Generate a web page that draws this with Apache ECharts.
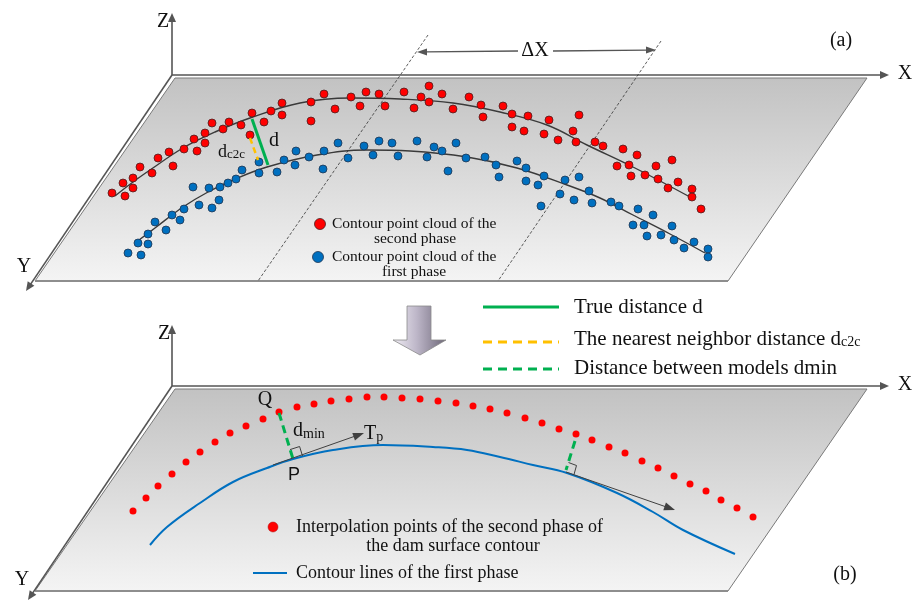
<!DOCTYPE html>
<html><head><meta charset="utf-8">
<script src="https://cdn.jsdelivr.net/npm/echarts@6/dist/echarts.min.js"></script>
<style>html,body{margin:0;padding:0;background:#fff}#c{width:913px;height:601px}</style>
</head><body><div id="c"></div>
<script>
// ---------- data (diagram coordinates) ----------
const planeA = [[175,78],[867,78],[728,281],[35,281]];
const planeB = [[175,389],[867,389],[728,591],[35,591]];
const axesA = [[[172,75],[889,75]],[[172,75],[172,13]],[[172,75],[26,291]]];
const axesB = [[[172,386],[889,386]],[[172,386],[172,325]],[[172,386],[28,600]]];
const boundaryLines = [[[428,35],[258,281]],[[661,41],[498,281]]];
const deltaXArrows = [[[518,51],[417,52]],[[553,51],[656,50]]];

const redCloudA = [[112,193],[123,183],[125,196],[133,178],[133,188],[140,167],[152,173],[158,158],[169,152],[173,166],[184,149],[194,139],[197,151],[205,133],[205,143],[212,123],[223,129],[229,122],[241,125],[250,135],[252,113],[264,122],[271,111],[282,103],[282,115],[311,102],[311,121],[324,94],[335,109],[351,97],[360,106],[366,92],[379,94],[385,106],[404,92],[414,108],[421,97],[429,86],[429,102],[442,94],[453,109],[469,97],[481,105],[483,117],[503,106],[512,114],[512,127],[524,131],[528,116],[544,134],[549,120],[558,140],[573,131],[576,142],[579,115],[595,142],[603,146],[617,166],[623,149],[629,165],[631,176],[637,155],[645,175],[656,166],[658,179],[668,188],[672,160],[678,182],[692,189],[692,197],[701,209]];
const blueCloudA = [[128,253],[141,255],[138,243],[148,244],[148,234],[166,230],[155,222],[172,215],[180,220],[184,209],[199,205],[212,208],[219,200],[193,187],[209,188],[220,187],[228,183],[236,179],[242,170],[259,173],[259,162],[277,172],[284,160],[295,165],[296,151],[309,157],[323,169],[324,151],[338,143],[348,158],[364,146],[373,155],[379,141],[392,143],[398,156],[417,141],[427,157],[434,147],[442,151],[448,171],[456,143],[466,158],[485,157],[496,165],[499,177],[517,161],[526,168],[526,181],[538,185],[541,206],[544,176],[560,194],[565,180],[574,200],[579,177],[589,191],[592,203],[611,202],[619,206],[633,225],[638,209],[644,225],[647,236],[653,215],[661,235],[672,226],[674,240],[684,248],[694,242],[708,249],[708,257]];
const redFitA = [[115,196],[133,182],[150,170],[183,148],[215,132],[250,118],[300,103],[350,98],[400,99],[453,103],[500,112],[547,125],[587,145],[633,167],[690,197]];
const blueFitA = [[135,243],[155,228],[183,207],[208,192],[233,180],[267,167],[317,155],[367,150],[410,151],[467,157],[517,168],[567,185],[600,198],[633,215],[670,234],[705,253]];

const redInterpB = [[133,511],[146,498],[158,486],[172,474],[186,462],[200,452],[215,442],[230,433],[246,426],[263,419],[279,412],[297,407],[314,404],[331,401],[349,399],[367,397],[384,397],[402,398],[420,399],[438,401],[456,403],[473,406],[490,409],[507,413],[525,418],[542,423],[559,429],[576,434],[592,440],[609,447],[625,453],[642,461],[658,468],[674,476],[690,484],[706,491],[721,500],[737,508],[753,517]];
const blueContourB = [[150,545],[167,527],[200,503],[233,482],[267,468],[293,459],[333,450],[383,445],[433,447],[467,450],[500,457],[533,465],[567,473],[617,493],[653,512],[683,530],[735,554]];

const trueDistance = [[252,119],[268,165]];
const nearestDistance = [[250,138],[258,160]];
const dminLines = [[[279,413],[293,459]],[[575,441],[566,470]]];
const tangentArrows = [[[273,465],[364,433]],[[566,472],[675,510]]];
const rightAngles = [[[290,449.6],[299.6,446.5],[302.5,456]],[[568.5,462.5],[576.5,465.5],[574,474.5]]];
const downArrow = [[407,306],[431,306],[431,340],[446,340],[420,355],[393,340],[407,340]];

const legendLines = [[[483,307],[559,307],'solid-green'],[[483,342],[559,342],'dash-orange'],[[483,369],[559,369],'dash-green'],[[253,573],[287,573],'blue']];
const legendDots = [[320,224,'redA'],[318,257,'blueA'],[273,527,'redB']];

const labels = [
 [163,22,'Z','axis','center'],[905,74,'X','axis','center'],[24,267,'Y','axis','center'],[841,41,'(a)','axis','center'],[535,51,'ΔX','axis','center'],
 [274,141,'d','big','center'],[218,152,'{m|d}{s|c2c}','subA','left'],
 [332,224,'Contour point cloud of the','legA','left'],[415,239,'second phase','legA','center'],
 [332,257,'Contour point cloud of the','legA','left'],[414,272,'first phase','legA','center'],
 [574,307,'True distance d','legT','left'],[574,339,'{m|The nearest neighbor distance d}{s|c2c}','legTsub','left'],[574,368,'Distance between models dmin','legT','left'],
 [164,334,'Z','axis','center'],[905,385,'X','axis','center'],[22,580,'Y','axis','center'],[845,575,'(b)','axis','center'],
 [265,400,'Q','axis','center'],[293,431,'{m|d}{s|min}','subB','left'],[364,434,'{m|T}{s|p}','subB','left'],[294,475,'P','sans','center'],
 [296,527,'Interpolation points of the second phase of','legB','left'],[453,546,'the dam surface contour','legB','center'],[296,573,'Contour lines of the first phase','legB','left']
];

// ---------- styles ----------
const SERIF = '"Liberation Serif","Times New Roman",serif';
const textStyles = {
  axis:{font:'20px '+SERIF},
  big:{font:'20px '+SERIF},
  legA:{font:'15.5px '+SERIF},
  legT:{font:'21px '+SERIF},
  legB:{font:'18px '+SERIF},
  sans:{font:'18px "Liberation Sans",Arial,sans-serif'},
  subA:{rich:{m:{fontSize:18,fontFamily:SERIF,verticalAlign:'bottom',lineHeight:18},s:{fontSize:13,fontFamily:SERIF,verticalAlign:'bottom',lineHeight:13}}},
  subB:{rich:{m:{fontSize:20,fontFamily:SERIF,verticalAlign:'bottom',lineHeight:20},s:{fontSize:14,fontFamily:SERIF,verticalAlign:'bottom',lineHeight:14}}},
  legTsub:{rich:{m:{fontSize:21,fontFamily:SERIF,verticalAlign:'bottom',lineHeight:21},s:{fontSize:14,fontFamily:SERIF,verticalAlign:'bottom',lineHeight:14}}}
};
const lineStyles = {
  'solid-green':{stroke:'#00b050',lineWidth:3},
  'dash-orange':{stroke:'#ffc000',lineWidth:3,lineDash:[9,6]},
  'dash-green':{stroke:'#00b050',lineWidth:3,lineDash:[9,6]},
  'blue':{stroke:'#0070c0',lineWidth:2}
};
const dotStyles = {
  redA:{fill:'#ff0000',stroke:'#4a2020',lineWidth:0.8,r:5.5},
  blueA:{fill:'#0070c0',stroke:'#1f3550',lineWidth:0.8,r:5.5},
  redB:{fill:'#ff0000',stroke:'#aa1010',lineWidth:0.5,r:5}
};

function arrowEls(a,b,color,lw,hl,hw){
  const dx=b[0]-a[0], dy=b[1]-a[1], L=Math.hypot(dx,dy), ux=dx/L, uy=dy/L;
  const bx=b[0]-ux*hl, by=b[1]-uy*hl;
  return [
    {type:'line',shape:{x1:a[0],y1:a[1],x2:bx+ux*1,y2:by+uy*1},style:{stroke:color,lineWidth:lw}},
    {type:'polygon',shape:{points:[[b[0],b[1]],[bx-uy*hw,by+ux*hw],[bx+uy*hw,by-ux*hw]]},style:{fill:color}}
  ];
}
function lineEl(a,b,style){return {type:'line',shape:{x1:a[0],y1:a[1],x2:b[0],y2:b[1]},style:style};}

const planes = [planeA, planeB];
const allAxes = axesA.concat(axesB);

const chart = echarts.init(document.getElementById('c'), null, {renderer:'canvas'});
const option = {
  animation:false,
  backgroundColor:'#ffffff',
  grid:{left:0,right:0,top:0,bottom:0},
  xAxis:{type:'value',min:0,max:913,show:false},
  yAxis:{type:'value',min:0,max:601,inverse:true,show:false},
  series:[
    { // planes
      type:'custom',coordinateSystem:'cartesian2d',silent:true,z:1,
      data:planes.map((p,i)=>[i,0]),
      renderItem:function(params,api){
        const pts = planes[params.dataIndex].map(p=>api.coord(p));
        return {type:'group',children:[
          {type:'polygon',shape:{points:pts},style:{fill:new echarts.graphic.LinearGradient(0,0,0,1,[{offset:0,color:'#c2c2c2'},{offset:1,color:'#f4f4f4'}]),stroke:'#7a7a7a',lineWidth:1}},
          lineEl(pts[3],pts[2],{stroke:'#8e8e8e',lineWidth:2})
        ]};
      }
    },
    { // axes with arrows
      type:'custom',coordinateSystem:'cartesian2d',silent:true,z:2,
      data:allAxes.map((p,i)=>[i,0]),
      renderItem:function(params,api){
        const s = allAxes[params.dataIndex];
        return {type:'group',children:arrowEls(api.coord(s[0]),api.coord(s[1]),'#555555',1.6,9,4)};
      }
    },
    { // boundary dashed lines, delta X arrows, down arrow, legend lines
      type:'custom',coordinateSystem:'cartesian2d',silent:true,z:3,
      data:[[0,0]],
      renderItem:function(params,api){
        const ch = [];
        boundaryLines.forEach(s=>ch.push(lineEl(api.coord(s[0]),api.coord(s[1]),{stroke:'#333',lineWidth:0.8,lineDash:[3,2]})));
        deltaXArrows.forEach(s=>arrowEls(api.coord(s[0]),api.coord(s[1]),'#555555',1.3,10,3.5).forEach(e=>ch.push(e)));
        ch.push({type:'polygon',shape:{points:downArrow.map(p=>api.coord(p))},style:{fill:new echarts.graphic.LinearGradient(0,0,1,0,[{offset:0,color:'#f1eef5'},{offset:0.45,color:'#bdb6c8'},{offset:1,color:'#6c6677'}]),stroke:'#8a8a8a',lineWidth:0.8}});
        legendLines.forEach(s=>ch.push(lineEl(api.coord(s[0]),api.coord(s[1]),lineStyles[s[2]])));
        return {type:'group',children:ch};
      }
    },
    {type:'line',data:redFitA,smooth:0.4,showSymbol:false,silent:true,z:4,lineStyle:{color:'#3a3a3a',width:1.4}},
    {type:'line',data:blueFitA,smooth:0.4,showSymbol:false,silent:true,z:4,lineStyle:{color:'#3a3a3a',width:1.4}},
    {type:'line',data:blueContourB,smooth:0.4,showSymbol:false,silent:true,z:4,lineStyle:{color:'#0070c0',width:2}},
    {type:'scatter',data:redCloudA,symbolSize:8,silent:true,z:5,itemStyle:{color:'#ff0000',borderColor:'#4a2020',borderWidth:0.8,opacity:1}},
    {type:'scatter',data:blueCloudA,symbolSize:8,silent:true,z:5,itemStyle:{color:'#0070c0',borderColor:'#1f3550',borderWidth:0.8,opacity:1}},
    {type:'scatter',data:redInterpB,symbolSize:7,silent:true,z:5,itemStyle:{color:'#ff0000',opacity:1}},
    { // annotation overlays
      type:'custom',coordinateSystem:'cartesian2d',silent:true,z:6,
      data:[[0,0]],
      renderItem:function(params,api){
        const ch = [];
        ch.push(lineEl(api.coord(nearestDistance[0]),api.coord(nearestDistance[1]),{stroke:'#ffc000',lineWidth:2.5,lineDash:[6,4]}));
        ch.push(lineEl(api.coord(trueDistance[0]),api.coord(trueDistance[1]),{stroke:'#00b050',lineWidth:3}));
        dminLines.forEach(s=>ch.push(lineEl(api.coord(s[0]),api.coord(s[1]),{stroke:'#00b050',lineWidth:3,lineDash:[8,5]})));
        tangentArrows.forEach(s=>arrowEls(api.coord(s[0]),api.coord(s[1]),'#404040',1,11,4).forEach(e=>ch.push(e)));
        rightAngles.forEach(s=>ch.push({type:'polyline',shape:{points:s.map(p=>api.coord(p))},style:{stroke:'#404040',lineWidth:1,fill:null}}));
        legendDots.forEach(d=>{const st=dotStyles[d[2]];const c=api.coord([d[0],d[1]]);ch.push({type:'circle',shape:{cx:c[0],cy:c[1],r:st.r},style:{fill:st.fill,stroke:st.stroke,lineWidth:st.lineWidth}});});
        return {type:'group',children:ch};
      }
    },
    { // texts
      type:'custom',coordinateSystem:'cartesian2d',silent:true,z:7,
      data:labels.map((l,i)=>[i,0]),
      renderItem:function(params,api){
        const l = labels[params.dataIndex];
        const c = api.coord([l[0],l[1]]);
        const st = textStyles[l[3]];
        const style = Object.assign({text:l[2],x:c[0],y:c[1],align:l[4],verticalAlign:'middle',fill:'#111'},st);
        return {type:'text',style:style};
      }
    }
  ]
};
chart.setOption(option);
</script></body></html>
